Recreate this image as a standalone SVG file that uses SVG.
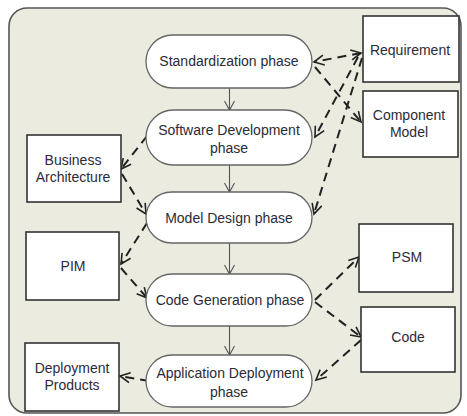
<svg xmlns="http://www.w3.org/2000/svg" width="467" height="416" viewBox="0 0 467 416">
<defs>
<style>
.frame{fill:#ebebe0;stroke:#555;stroke-width:1.6}
.phase{fill:#fff;stroke:#666;stroke-width:1.3}
.box{fill:#fff;stroke:#333;stroke-width:1.6}
.t{font-family:"Liberation Sans",Arial,sans-serif;font-size:14px;fill:#2b2b38;text-anchor:middle}
.flow{fill:none;stroke:#555;stroke-width:1.1}
.dash{fill:none;stroke:#222;stroke-width:2;stroke-dasharray:9 6}
</style>
<marker id="ah" markerUnits="userSpaceOnUse" markerWidth="12" markerHeight="12" refX="9" refY="5" orient="auto" overflow="visible">
<path d="M0,0 L9,5 L0,10" fill="none" stroke="#555" stroke-width="1.1" stroke-dasharray="none"/>
</marker>
<marker id="dh" markerUnits="userSpaceOnUse" markerWidth="12" markerHeight="12" refX="10" refY="5" orient="auto-start-reverse" overflow="visible">
<path d="M0,0 L10,5 L0,10" fill="none" stroke="#222" stroke-width="1.6" stroke-dasharray="none"/>
</marker>
</defs>
<rect class="frame" x="9" y="8" width="452" height="405" rx="18"/>
<g id="connectors">
<line class="flow" x1="229.5" y1="88" x2="229.5" y2="110" marker-end="url(#ah)"/>
<line class="flow" x1="229.5" y1="165" x2="229.5" y2="192" marker-end="url(#ah)"/>
<line class="flow" x1="229.5" y1="243" x2="229.5" y2="274" marker-end="url(#ah)"/>
<line class="flow" x1="229.5" y1="326" x2="229.5" y2="355" marker-end="url(#ah)"/>
<line class="dash" x1="361" y1="53" x2="314" y2="62" marker-start="url(#dh)" marker-end="url(#dh)"/>
<line class="dash" x1="315" y1="67" x2="361" y2="122" marker-end="url(#dh)"/>
<line class="dash" x1="358" y1="57" x2="315" y2="137" marker-end="url(#dh)"/>
<line class="dash" x1="362" y1="58" x2="314" y2="214" marker-end="url(#dh)"/>
<line class="dash" x1="147" y1="136" x2="121" y2="169" marker-end="url(#dh)"/>
<line class="dash" x1="122" y1="174" x2="146" y2="214" marker-end="url(#dh)"/>
<line class="dash" x1="147" y1="223" x2="121" y2="264" marker-end="url(#dh)"/>
<line class="dash" x1="121" y1="268" x2="147" y2="298" marker-end="url(#dh)"/>
<line class="dash" x1="149" y1="381" x2="120" y2="376" marker-end="url(#dh)"/>
<line class="dash" x1="315" y1="300" x2="359" y2="257" marker-end="url(#dh)"/>
<line class="dash" x1="315" y1="302" x2="361" y2="337" marker-end="url(#dh)"/>
<line class="dash" x1="361" y1="340" x2="316" y2="380" marker-end="url(#dh)"/>
</g>
<g id="standardization">
<rect class="phase" x="146" y="35" width="166" height="53" rx="26.5"/>
<text class="t" x="229" y="66">Standardization phase</text>
</g>
<g id="software-development">
<rect class="phase" x="146" y="110" width="166" height="55" rx="27.5"/>
<text class="t" x="229" y="135">Software Development</text>
<text class="t" x="229" y="153">phase</text>
</g>
<g id="model-design">
<rect class="phase" x="146" y="192" width="166" height="51" rx="25.5"/>
<text class="t" x="229" y="223">Model Design phase</text>
</g>
<g id="code-generation">
<rect class="phase" x="146" y="274" width="166" height="52" rx="26"/>
<text class="t" x="230" y="305">Code Generation phase</text>
</g>
<g id="application-deployment">
<rect class="phase" x="146" y="355" width="166" height="52" rx="26"/>
<text class="t" x="230" y="378">Application Deployment</text>
<text class="t" x="229" y="397">phase</text>
</g>
<g id="requirement">
<rect class="box" x="363" y="16" width="96" height="66"/>
<text class="t" x="410" y="55">Requirement</text>
</g>
<g id="component-model">
<rect class="box" x="363" y="91" width="95" height="66"/>
<text class="t" x="409" y="120">Component</text>
<text class="t" x="409" y="137">Model</text>
</g>
<g id="business-architecture">
<rect class="box" x="27" y="135" width="94" height="67"/>
<text class="t" x="73" y="165">Business</text>
<text class="t" x="73" y="182">Architecture</text>
</g>
<g id="pim">
<rect class="box" x="26" y="232" width="93" height="68"/>
<text class="t" x="73" y="271">PIM</text>
</g>
<g id="deployment-products">
<rect class="box" x="25" y="343" width="94" height="68"/>
<text class="t" x="72" y="373">Deployment</text>
<text class="t" x="72" y="390">Products</text>
</g>
<g id="psm">
<rect class="box" x="359" y="224" width="94" height="68"/>
<text class="t" x="407" y="262">PSM</text>
</g>
<g id="code">
<rect class="box" x="361" y="307" width="94" height="65"/>
<text class="t" x="408" y="342">Code</text>
</g>
</svg>
